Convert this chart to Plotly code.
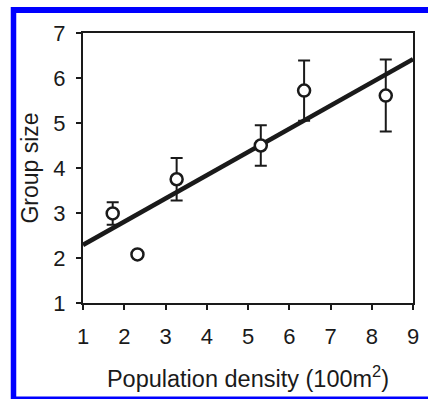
import plotly.graph_objects as go

# Data
density = [1.72, 2.32, 3.27, 5.31, 6.36, 8.34]
group_size = [2.99, 2.08, 3.75, 4.50, 5.72, 5.61]
group_err = [0.25, 0.0, 0.47, 0.45, 0.67, 0.80]

# Regression line (endpoints)
fit_x = [1, 9]
fit_y = [2.29, 6.42]

x_ticks = [1, 2, 3, 4, 5, 6, 7, 8, 9]
y_ticks = [1, 2, 3, 4, 5, 6, 7]

INK = "#1a1a1a"
FONT = "Liberation Sans, Arial, Helvetica, sans-serif"

fig = go.Figure()

fig.add_trace(go.Scatter(
    x=fit_x, y=fit_y, mode="lines",
    line=dict(color=INK, width=4.5),
    showlegend=False, hoverinfo="skip",
))

fig.add_trace(go.Scatter(
    x=density, y=group_size, mode="markers",
    marker=dict(symbol="circle", size=12, color="white",
                line=dict(color=INK, width=2.5)),
    error_y=dict(type="data", array=group_err, visible=True,
                 color=INK, thickness=2, width=6),
    showlegend=False,
))

W, H = 428, 399
ML, MR, MT, MB = 83, 15, 33, 96
PW = W - ML - MR
PH = H - MT - MB

def px_to_paper_x(px):
    return (px - ML) / PW

def px_to_paper_y(py):
    return (H - MB - py) / PH

BLUE = "#0000ff"
frame = [
    # top edge
    dict(type="line", xref="paper", yref="paper",
         x0=px_to_paper_x(11), x1=px_to_paper_x(428),
         y0=px_to_paper_y(10), y1=px_to_paper_y(10),
         line=dict(color=BLUE, width=6), layer="above"),
    # left edge
    dict(type="line", xref="paper", yref="paper",
         x0=px_to_paper_x(13.5), x1=px_to_paper_x(13.5),
         y0=px_to_paper_y(7), y1=px_to_paper_y(399),
         line=dict(color=BLUE, width=5.5), layer="above"),
    # bottom edge
    dict(type="line", xref="paper", yref="paper",
         x0=px_to_paper_x(11), x1=px_to_paper_x(428),
         y0=px_to_paper_y(398), y1=px_to_paper_y(398),
         line=dict(color=BLUE, width=3), layer="above"),
]

fig.update_layout(
    width=W, height=H,
    margin=dict(l=ML, r=MR, t=MT, b=MB, pad=0),
    paper_bgcolor="white", plot_bgcolor="white",
    font=dict(family=FONT, color=INK, size=22),
    xaxis=dict(
        range=[1, 9], tickvals=x_ticks, ticktext=[str(v) for v in x_ticks],
        showgrid=False, zeroline=False,
        showline=True, linecolor=INK, linewidth=2, mirror=True,
        ticks="outside", ticklen=5, tickwidth=2, tickcolor=INK,
        tickfont=dict(size=22), ticklabelstandoff=8,
        title=dict(text="Population density (100m<sup>2</sup>)",
                   font=dict(size=23.5), standoff=22),
        automargin=False,
    ),
    yaxis=dict(
        range=[1, 7], tickvals=y_ticks, ticktext=[str(v) for v in y_ticks],
        showgrid=False, zeroline=False,
        showline=True, linecolor=INK, linewidth=2, mirror=True,
        ticks="outside", ticklen=5, tickwidth=2, tickcolor=INK,
        tickfont=dict(size=22), ticklabelstandoff=6,
        title=dict(text="Group size", font=dict(size=23), standoff=8),
        automargin=False,
    ),
    shapes=frame,
)

fig.write_html("out.html")
